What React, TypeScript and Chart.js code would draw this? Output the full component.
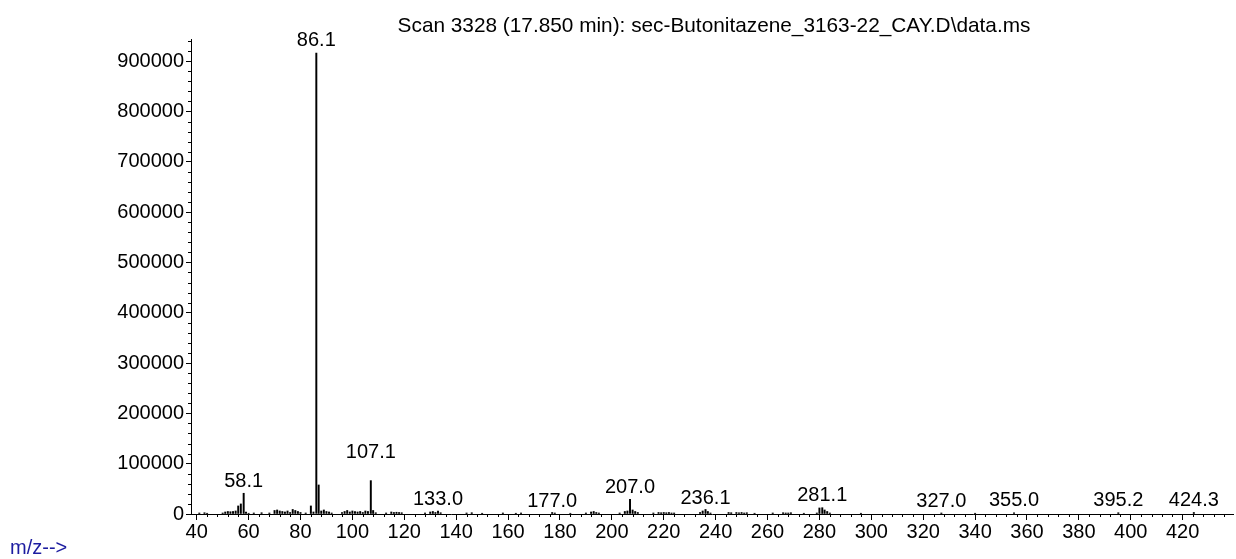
import React, { useEffect, useRef } from "react";
import { Chart, registerables } from "chart.js";

Chart.register(...registerables);

const titleText = "Scan 3328 (17.850 min): sec-Butonitazene_3163-22_CAY.D\\data.ms";
const axisLabel = "m/z-->";

const mzValues = [
  41, 43, 44, 50, 51, 52, 53, 54, 55, 56, 57, 58.1, 59, 60, 62, 65, 68, 70, 71, 72, 73, 74, 75, 76, 77, 78, 79, 80, 82,
  84, 85, 86.1, 87, 88, 89, 90, 91, 92, 96, 97, 98, 99, 100, 101, 102, 103, 104, 105, 106, 107.1, 108, 109, 113, 115,
  116, 117, 118, 119, 128, 130, 131, 132, 133, 134, 144, 146, 150, 158, 163, 165, 177, 178, 184, 190, 192, 193, 194,
  195, 203, 205, 206, 207, 208, 209, 210, 216, 218, 219, 220, 221, 222, 223, 224, 234, 235, 236.1, 237, 238, 245, 246,
  248, 249, 250, 251, 252, 255, 262, 266, 267, 268, 269, 274, 279, 280, 281.1, 282, 283, 284, 296, 327, 340, 355, 395.2,
  424.3,
];
const abundances = [
  2000, 2500, 1500, 2000, 4000, 5000, 4500, 5000, 6000, 16000, 20000, 41200, 4000, 1500, 2000, 2500, 2000, 7000, 8000,
  6000, 5000, 4000, 6000, 3000, 9000, 7000, 5000, 3000, 2000, 16000, 4000, 916000, 57700, 6000, 8000, 5000, 4000, 2000,
  3000, 5000, 7000, 4000, 6000, 5000, 4000, 5000, 3000, 6000, 5000, 66300, 7000, 2500, 2000, 4000, 3000, 3500, 3000,
  2500, 2000, 4000, 5000, 3000, 6000, 2500, 2000, 2500, 1500, 2000, 1500, 2000, 3000, 2000, 1500, 2000, 4000, 5000,
  3000, 2000, 2000, 5000, 6000, 29200, 8000, 5000, 3000, 2000, 3000, 2500, 3000, 2500, 3000, 2000, 2000, 3000, 6000,
  9000, 5000, 2000, 3000, 2500, 3000, 2500, 3000, 2000, 2500, 1500, 2000, 2500, 2000, 2000, 2500, 1500, 2000, 12000,
  12500, 8000, 5000, 2000, 1500, 2000, 1500, 2500, 2500, 3000,
];

const peakLabels = ["86.1", "58.1", "107.1", "133.0", "177.0", "207.0", "236.1", "281.1", "327.0", "355.0", "395.2", "424.3"];
const peakLabelMz = [86.1, 58.1, 107.1, 133.0, 177.0, 207.0, 236.1, 281.1, 327.0, 355.0, 395.2, 424.3];
const peakLabelLevel = [927000, 51700, 107400, 14500, 11900, 37800, 17900, 21900, 11900, 12900, 12900, 12900];

const xTickValues = [40, 60, 80, 100, 120, 140, 160, 180, 200, 220, 240, 260, 280, 300, 320, 340, 360, 380, 400, 420];
const yTickValues = [0, 100000, 200000, 300000, 400000, 500000, 600000, 700000, 800000, 900000];

const xMin = 37.8;
const xMax = 439.4;
const yMin = 0;
const yMax = 944000;

const FONT = '"Liberation Sans", Arial, sans-serif';

const overlayPlugin = {
  id: "overlay",
  afterDraw(chart: any) {
    const ctx = chart.ctx;
    const xs = chart.scales.x;
    const ys = chart.scales.y;
    const area = chart.chartArea;
    ctx.save();
    ctx.strokeStyle = "#000";
    ctx.lineWidth = 1;
    ctx.beginPath();
    for (let v = 40; v <= xMax; v += 4) {
      if (v % 20 === 0) continue;
      const px = Math.round(xs.getPixelForValue(v)) + 0.5;
      ctx.moveTo(px, area.bottom);
      ctx.lineTo(px, area.bottom + 3);
    }
    for (let v = 0; v <= yMax; v += 20000) {
      if (v % 100000 === 0) continue;
      const py = Math.round(ys.getPixelForValue(v)) + 0.5;
      ctx.moveTo(area.left - 3, py);
      ctx.lineTo(area.left, py);
    }
    ctx.stroke();

    ctx.fillStyle = "#000";
    ctx.font = `20px ${FONT}`;
    ctx.textAlign = "center";
    ctx.textBaseline = "bottom";
    peakLabels.forEach((t, i) => {
      const px = xs.getPixelForValue(peakLabelMz[i]);
      const py = ys.getPixelForValue(peakLabelLevel[i]);
      ctx.fillText(t, px, py + 3);
    });

    ctx.textAlign = "center";
    ctx.textBaseline = "alphabetic";
    ctx.font = `20.8px ${FONT}`;
    ctx.fillText(titleText, 714, 32);

    ctx.textAlign = "left";
    ctx.fillStyle = "#1c1ca0";
    ctx.font = `20px ${FONT}`;
    ctx.fillText(axisLabel, 10, 554);
    ctx.restore();
  },
};

export default function App() {
  const ref = useRef<HTMLCanvasElement | null>(null);
  useEffect(() => {
    if (!ref.current) return;
    const data = mzValues.map((m, i) => ({ x: m, y: abundances[i] }));
    const chart = new Chart(ref.current, {
      type: "bar",
      data: {
        datasets: [
          {
            data,
            backgroundColor: "#000",
            borderWidth: 0,
            barThickness: 1.3,
            grouped: false,
          } as any,
        ],
      },
      options: {
        animation: false,
        responsive: true,
        maintainAspectRatio: false,
        layout: { padding: { left: 0, top: 39, right: 3, bottom: 0 } },
        plugins: { legend: { display: false }, tooltip: { enabled: false }, title: { display: false } },
        scales: {
          x: {
            type: "linear",
            min: xMin,
            max: xMax,
            offset: false,
            grid: { display: true, drawOnChartArea: false, drawTicks: true, tickLength: 6, tickColor: "#000", offset: false },
            border: { display: true, color: "#000", width: 1 },
            ticks: {
              autoSkip: false,
              maxRotation: 0,
              color: "#000",
              padding: 0,
              font: { family: FONT, size: 20 },
              callback: (v: any) => String(v),
            },
            afterBuildTicks: (s: any) => {
              s.ticks = xTickValues.map((v) => ({ value: v }));
            },
            afterFit: (s: any) => {
              s.height = 45;
            },
          },
          y: {
            type: "linear",
            min: yMin,
            max: yMax,
            grid: { display: true, drawOnChartArea: false, drawTicks: true, tickLength: 5, tickColor: "#000" },
            border: { display: true, color: "#000", width: 1 },
            ticks: {
              autoSkip: false,
              color: "#000",
              padding: 2,
              font: { family: FONT, size: 20 },
              callback: (v: any) => String(v),
            },
            afterBuildTicks: (s: any) => {
              s.ticks = yTickValues.map((v) => ({ value: v }));
            },
            afterFit: (s: any) => {
              s.width = 191;
            },
          },
        },
      },
      plugins: [overlayPlugin],
    });
    return () => chart.destroy();
  }, []);
  return (
    <div style={{ position: "absolute", left: 0, top: 0, width: 1236, height: 559 }}>
      <canvas ref={ref} />
    </div>
  );
}
